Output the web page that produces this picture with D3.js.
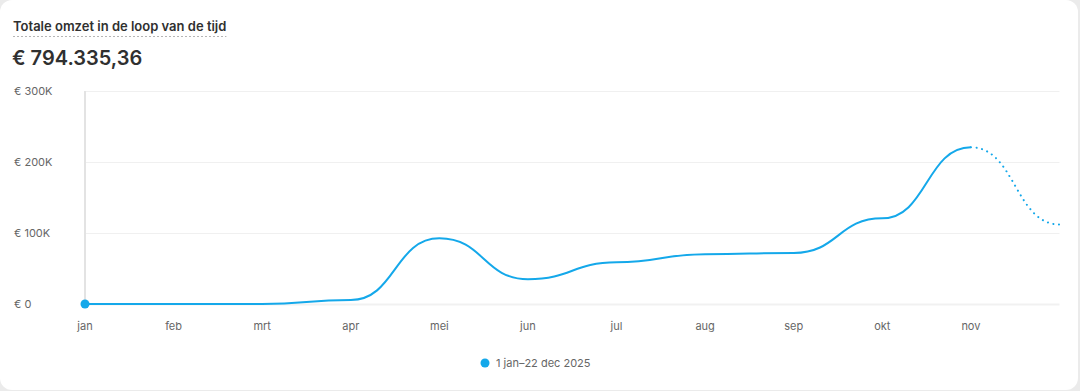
<!DOCTYPE html>
<html><head><meta charset="utf-8">
<script src="https://cdn.jsdelivr.net/npm/d3@7"></script>
<style>
html,body{margin:0;padding:0;background:#ebebeb;width:1080px;height:391px;overflow:hidden;font-family:Inter,"Noto Sans",sans-serif;}
#card{position:absolute;left:0;top:0;width:1078px;height:390px;background:#fff;border-radius:12px;}
</style></head>
<body><div id="card"><svg id="chart" width="1078" height="390"></svg></div>
<script>
const months = ["jan","feb","mrt","apr","mei","jun","jul","aug","sep","okt","nov","dec"];
const values = [0, 0, 0, 5600, 92500, 35000, 58700, 70000, 72000, 120700, 220700, 112000];
const yTicks = [0, 100000, 200000, 300000];
const yTickLabels = ["€ 0", "€ 100K", "€ 200K", "€ 300K"];
const xTickLabels = ["jan","feb","mrt","apr","mei","jun","jul","aug","sep","okt","nov"];
const title = "Totale omzet in de loop van de tijd";
const total = "€ 794.335,36";
const legendLabel = "1 jan–22 dec 2025";
const solidUntil = 10; // index of last solid point (nov)

const svg = d3.select("#chart");
const color = "#14a8ea";
const x = d3.scalePoint().domain(months).range([85, 1059.5]);
const y = d3.scaleLinear().domain([0, 300000]).range([304, 91]);

// title
const t = svg.append("text").attr("x", 13).attr("y", 31)
  .attr("font-size", 13).attr("font-weight", 600).attr("fill", "#303030").text(title);
const tw = t.node().getComputedTextLength();
svg.append("line").attr("x1", 13).attr("x2", 13 + tw).attr("y1", 36.5).attr("y2", 36.5)
  .attr("stroke", "#b5b5b5").attr("stroke-width", 1.2).attr("stroke-dasharray", "2 2");
svg.append("text").attr("x", 12).attr("y", 65)
  .attr("font-size", 20).attr("font-weight", 600).attr("fill", "#303030").text(total);

// grid
const g = svg.append("g");
g.selectAll("line.grid").data(yTicks).enter().append("line")
  .attr("x1", 85).attr("x2", 1059.5)
  .attr("y1", d => y(d) + 0.5).attr("y2", d => y(d) + 0.5)
  .attr("stroke", d => d === 0 ? "#f1f1f1" : "#f0f0f0").attr("stroke-width", d => d === 0 ? 2 : 1);
g.append("line").attr("x1", 85).attr("x2", 85).attr("y1", 91).attr("y2", 304)
  .attr("stroke", "#e3e3e3").attr("stroke-width", 2);

// y labels
g.selectAll("text.yl").data(yTicks).enter().append("text")
  .attr("x", 14).attr("y", d => y(d)).attr("dy", "0.35em")
  .attr("font-size", 11).attr("fill", "#666666").text((d, i) => yTickLabels[i]);

// x labels
g.selectAll("text.xl").data(xTickLabels).enter().append("text")
  .attr("x", d => x(d)).attr("y", 326).attr("dy", "0.35em").attr("text-anchor", "middle")
  .attr("font-size", 11).attr("fill", "#666666").text(d => d);

const data = months.map((m, i) => ({m, v: values[i]}));
const line = d3.line().x(d => x(d.m)).y(d => y(d.v)).curve(d3.curveBumpX);
svg.append("path").attr("d", line(data.slice(0, solidUntil + 1)))
  .attr("fill", "none").attr("stroke", color).attr("stroke-width", 2);
svg.append("path").attr("d", line(data.slice(solidUntil)))
  .attr("fill", "none").attr("stroke", color).attr("stroke-width", 2)
  .attr("stroke-dasharray", "0.1 5.5").attr("stroke-linecap", "round");
svg.append("circle").attr("cx", x(months[0])).attr("cy", y(values[0])).attr("r", 4.5).attr("fill", color);

// legend
svg.append("circle").attr("cx", 485).attr("cy", 363).attr("r", 4.5).attr("fill", color);
svg.append("text").attr("x", 496).attr("y", 363).attr("dy", "0.35em")
  .attr("font-size", 11).attr("fill", "#666666").text(legendLabel);
</script></body></html>
